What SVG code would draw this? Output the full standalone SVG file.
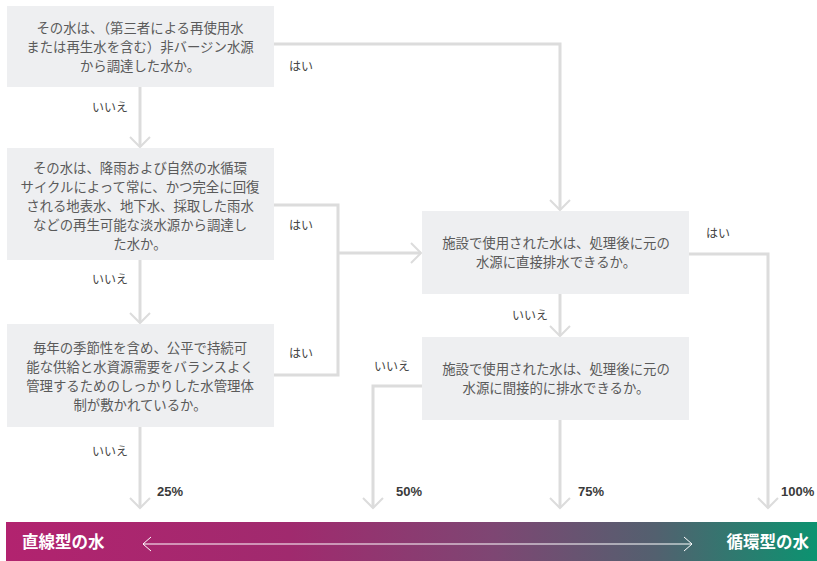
<svg xmlns="http://www.w3.org/2000/svg" width="817" height="561" viewBox="0 0 817 561">
<style>
.box{fill:#eeeff1}
.t{font-family:"Noto Sans CJK JP","Noto Sans",sans-serif;font-size:13.4px;fill:#5a5a5a;text-anchor:middle}
.l{font-family:"Noto Sans CJK JP","Noto Sans",sans-serif;font-size:12px;fill:#444444}
.p{font-family:"Liberation Sans","Noto Sans",sans-serif;font-size:13px;font-weight:bold;fill:#3a3a3a}
.c{fill:none;stroke:#dcdcdc;stroke-width:3}
.h{fill:none;stroke:#dcdcdc;stroke-width:2}
.b{font-family:"Noto Sans CJK JP",sans-serif;font-size:16.5px;font-weight:bold;fill:#ffffff}
</style>
<defs>
<linearGradient id="g" x1="0" y1="0" x2="1" y2="0">
<stop offset="0" stop-color="#b2236f"/>
<stop offset="0.35" stop-color="#a02a6e"/>
<stop offset="0.6" stop-color="#7e4673"/>
<stop offset="0.8" stop-color="#53606f"/>
<stop offset="1" stop-color="#0b9370"/>
</linearGradient>
</defs>
<rect width="817" height="561" fill="#ffffff"/>
<g id="connectors">
<path class="c" d="M274,44 H560 V210"/>
<path class="h" d="M550,200 L560,210 L570,200"/>
<path class="c" d="M140,87 V147"/>
<path class="h" d="M130,137 L140,147 L150,137"/>
<path class="c" d="M274,205 H338 V375 H274"/>
<path class="c" d="M338,253 H421"/>
<path class="h" d="M411,243 L421,253 L411,263"/>
<path class="c" d="M140,260 V323"/>
<path class="h" d="M130,313 L140,323 L150,313"/>
<path class="c" d="M140,427 V508"/>
<path class="h" d="M130,498 L140,508 L150,498"/>
<path class="c" d="M689,254 H768 V508"/>
<path class="h" d="M758,498 L768,508 L778,498"/>
<path class="c" d="M560,294 V336"/>
<path class="h" d="M550,326 L560,336 L570,326"/>
<path class="c" d="M422,386 H373 V508"/>
<path class="h" d="M363,498 L373,508 L383,498"/>
<path class="c" d="M560,420 V508"/>
<path class="h" d="M550,498 L560,508 L570,498"/>
</g>
<g id="n1">
<rect class="box" x="7" y="6" width="267" height="81"/>
<text class="t" x="140" y="33">その水は、（第三者による再使用水</text>
<text class="t" x="140" y="52">または再生水を含む）非バージン水源</text>
<text class="t" x="140" y="71">から調達した水か。</text>
</g>
<g id="n2">
<rect class="box" x="7" y="148" width="267" height="112"/>
<text class="t" x="140" y="173">その水は、降雨および自然の水循環</text>
<text class="t" x="140" y="192">サイクルによって常に、かつ完全に回復</text>
<text class="t" x="140" y="211">される地表水、地下水、採取した雨水</text>
<text class="t" x="140" y="230">などの再生可能な淡水源から調達し</text>
<text class="t" x="140" y="249">た水か。</text>
</g>
<g id="n3">
<rect class="box" x="7" y="324" width="267" height="103"/>
<text class="t" x="140" y="353">毎年の季節性を含め、公平で持続可</text>
<text class="t" x="140" y="372">能な供給と水資源需要をバランスよく</text>
<text class="t" x="140" y="391">管理するためのしっかりした水管理体</text>
<text class="t" x="140" y="410">制が敷かれているか。</text>
</g>
<g id="n4">
<rect class="box" x="422" y="211" width="267" height="83"/>
<text class="t" x="556" y="248">施設で使用された水は、処理後に元の</text>
<text class="t" x="556" y="267">水源に直接排水できるか。</text>
</g>
<g id="n5">
<rect class="box" x="422" y="337" width="267" height="83"/>
<text class="t" x="556" y="374">施設で使用された水は、処理後に元の</text>
<text class="t" x="556" y="393">水源に間接的に排水できるか。</text>
</g>
<g id="labels">
<text class="l" x="289" y="71">はい</text>
<text class="l" x="92" y="112">いいえ</text>
<text class="l" x="289" y="230">はい</text>
<text class="l" x="92" y="284">いいえ</text>
<text class="l" x="289" y="358">はい</text>
<text class="l" x="92" y="456">いいえ</text>
<text class="l" x="706" y="238">はい</text>
<text class="l" x="512" y="320">いいえ</text>
<text class="l" x="374" y="371">いいえ</text>
<text class="p" x="157" y="496">25%</text>
<text class="p" x="396" y="496">50%</text>
<text class="p" x="578" y="496">75%</text>
<text class="p" x="781" y="496">100%</text>
</g>
<g id="scale">
<rect x="6" y="522" width="811" height="39" fill="url(#g)"/>
<text class="b" x="22" y="548">直線型の水</text>
<text class="b" x="809" y="548" text-anchor="end">循環型の水</text>
<path d="M143,544 H692" stroke="#ffffff" stroke-width="1" fill="none"/>
<path d="M151,537 L143,544 L151,551" stroke="#ffffff" stroke-width="1" fill="none"/>
<path d="M684,537 L692,544 L684,551" stroke="#ffffff" stroke-width="1" fill="none"/>
</g>
</svg>
